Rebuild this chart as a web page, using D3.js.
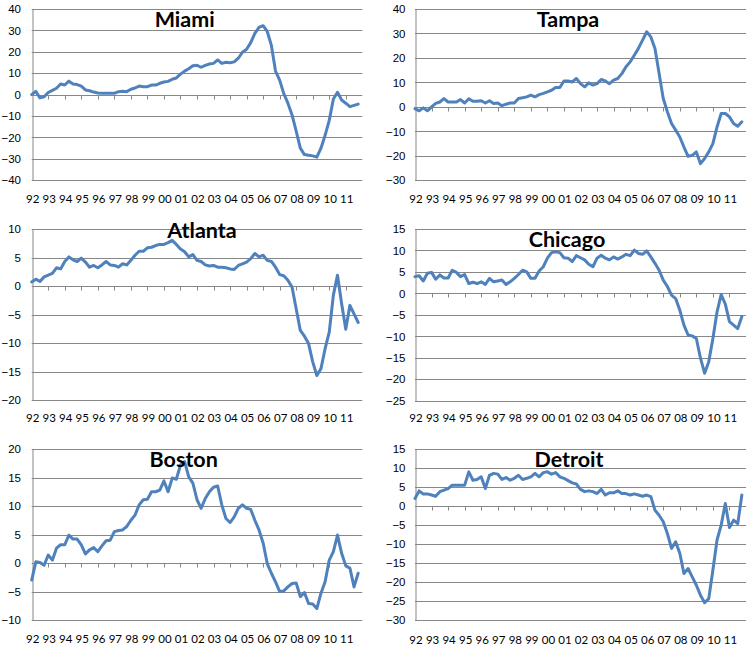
<!DOCTYPE html>
<html>
<head>
<meta charset="utf-8">
<script src="https://cdn.jsdelivr.net/npm/d3@7"></script>
<style>
  body { margin: 0; background: #fff; }
  svg { display: block; font-family: Lato, "Liberation Sans", sans-serif; }
</style>
</head>
<body>
<svg id="chart" width="750" height="646"></svg>
<script>
// category labels, one per year (Q1 of each year)
var yearLabels = ["92","93","94","95","96","97","98","99","00","01",
                  "02","03","04","05","06","07","08","09","10","11"];

// quarterly values, Q1 1992 .. Q4 2011 (4 per row = 1 year)
var miami = [
  0, 1.5, -1.5, -1,
  1, 2, 3, 5,
  4.5, 6.3, 5, 4.7,
  4, 2.2, 1.8, 1.2,
  0.8, 0.6, 0.6, 0.6,
  0.6, 1.4, 1.6, 1.4,
  2.5, 3.1, 4, 3.7,
  3.7, 4.5, 4.5, 5.3,
  5.9, 6.2, 7.2, 7.8,
  9.6, 11, 12.1, 13.5,
  13.7, 12.8, 13.7, 14.3,
  14.6, 16.2, 14.6, 15.1,
  14.9, 15.3, 17, 19.8,
  21.2, 24.3, 28.6, 31.4,
  32.2, 29.5, 23, 11,
  6.8, 0.5, -4, -9.5,
  -17, -25, -28, -28.3,
  -28.6, -29.2, -25, -19,
  -12, -2, 1.1, -2.5,
  -4, -5.6, -5, -4.4
];
var tampa = [
  -0.7, -1.6, -0.4, -1.6,
  0, 1.4, 2, 3.4,
  2, 2, 2, 3,
  1.6, 3.3, 2.3, 2.3,
  2.5, 1.6, 2.5, 1.4,
  1.6, 0.5, 1.1, 1.6,
  1.6, 3.4, 3.7, 4.1,
  4.8, 4.1, 5, 5.5,
  6.1, 6.8, 7.9, 7.9,
  10.6, 10.6, 10.2, 11.6,
  9.5, 8.2, 9.8, 8.9,
  9.5, 11.2, 10.6, 9.5,
  10.9, 11.6, 13.6, 16.4,
  18.4, 21.1, 23.9, 27.3,
  30.7, 28.6, 23.9, 13.6,
  3.4, -2, -6.8, -9.5,
  -12.3, -16.4, -20.2, -19.8,
  -18.4, -23.2, -21.1, -18.4,
  -15, -8.2, -2.7, -2.7,
  -4.1, -6.8, -7.9, -6.1
];
var atlanta = [
  0.7, 1.2, 0.8, 1.6,
  1.9, 2.2, 3.2, 3,
  4.3, 5.1, 4.6, 4.3,
  4.9, 4.2, 3.3, 3.6,
  3.2, 3.7, 4.3, 3.7,
  3.6, 3.3, 3.9, 3.7,
  4.5, 5.4, 6.1, 6.1,
  6.7, 6.8, 7.1, 7.3,
  7.3, 7.6, 8, 7.3,
  6.5, 6, 5.1, 5.5,
  4.5, 4.3, 3.7, 3.5,
  3.6, 3.3, 3.3, 3.2,
  3, 2.9, 3.6, 3.9,
  4.2, 4.8, 5.7, 5.1,
  5.4, 4.5, 4.3, 3.3,
  2, 1.8, 1, -0.2,
  -4, -7.8, -8.8, -10.1,
  -13.3, -15.7, -14.5, -11,
  -8.1, -1.6, 1.9, -3.1,
  -7.6, -3.4, -4.9, -6.4
];
var chicago = [
  3.9, 4.1, 2.9, 4.7,
  4.9, 3.3, 4.3, 3.6,
  3.6, 5.4, 4.9, 3.9,
  4.4, 2.3, 2.6, 2.3,
  2.7, 2.1, 3.5, 2.7,
  2.9, 3.1, 2.1, 2.7,
  3.5, 4.4, 5.4, 5,
  3.5, 3.5, 5.2, 6.2,
  8.2, 9.5, 9.7, 9.5,
  8.3, 8.2, 7.4, 8.8,
  8.3, 7.8, 6.8, 6.2,
  8.2, 8.9, 8.2, 7.8,
  8.5, 8, 8.5, 9.1,
  8.8, 10.1, 9.3, 9.1,
  9.9, 8.5, 7, 5.4,
  3.1, 1.6, -0.4, -1.2,
  -3.9, -7.4, -9.7, -9.9,
  -10.5, -15.1, -18.6, -15.9,
  -10.5, -4.3, -0.3, -2.5,
  -6.6, -7.4, -8.2, -5.4
];
var boston = [
  -3, 0.2, 0.1, -0.4,
  1.4, 0.5, 2.6, 3.2,
  3.2, 4.9, 4.2, 4.2,
  3.2, 1.6, 2.3, 2.7,
  2, 3, 3.9, 4,
  5.5, 5.7, 5.8, 6.4,
  7.5, 8.4, 10.2, 11.1,
  11.2, 12.5, 12.5, 12.8,
  14.4, 12.5, 14.9, 14.7,
  17.2, 17.8, 15.1, 14,
  11.1, 9.6, 11.3, 12.5,
  13.3, 13.5, 10.2, 7.8,
  7.1, 8.1, 9.6, 10.2,
  9.6, 9.4, 7.5, 5.8,
  3.5, -0.1, -1.8, -3.3,
  -5, -4.9, -4.2, -3.6,
  -3.5, -5.9, -5.2, -7.1,
  -7.2, -8, -5.3, -3.3,
  0.5, 2, 4.9, 1.7,
  -0.5, -0.9, -4.2, -1.8
];
var detroit = [
  2, 4, 3.2, 3.2,
  2.9, 2.6, 3.8, 4.2,
  4.6, 5.5, 5.5, 5.5,
  5.5, 9, 6.8, 7,
  7.7, 4.6, 8.1, 8.6,
  8.4, 7, 7.5, 6.8,
  7.3, 8.1, 7, 7.3,
  7.7, 8.6, 7.7, 8.8,
  9, 8.4, 8.8, 7.7,
  7.3, 6.7, 6.1, 5.8,
  4.4, 3.8, 4, 3.8,
  3.3, 4.4, 2.9, 3.5,
  3.5, 4, 3.3, 3.3,
  2.9, 3.2, 2.9, 2.6,
  2.9, 2.5, -1.1, -2.4,
  -4.1, -7.2, -11.1, -9.4,
  -12.4, -17.7, -16.4, -18.6,
  -20.8, -23.4, -25.4, -24.3,
  -16.8, -8.9, -5, 0.7,
  -5.6, -3.7, -4.6, 2.9
];

// layout of the six small charts (2 columns x 3 rows)
var panels = [
  {name: "Miami",   data: miami,   left: 31.7, right: 362.3, top: 9,   bottom: 180.3, domain: [-40, 40], step: 10, tx: 184.7, ty: 26.7,  ly: 198.5},
  {name: "Tampa",   data: tampa,   left: 415,  right: 746,   top: 9,   bottom: 180.3, domain: [-30, 40], step: 10, tx: 568,   ty: 26.7,  ly: 198.5},
  {name: "Atlanta", data: atlanta, left: 31.7, right: 362.3, top: 229, bottom: 400,   domain: [-20, 10], step: 5,  tx: 202,   ty: 238.3, ly: 417.5},
  {name: "Chicago", data: chicago, left: 415,  right: 746,   top: 229, bottom: 400.7, domain: [-25, 15], step: 5,  tx: 567,   ty: 246.7, ly: 418},
  {name: "Boston",  data: boston,  left: 31.7, right: 362.3, top: 449, bottom: 620,   domain: [-10, 20], step: 5,  tx: 183.7, ty: 466.7, ly: 639.2},
  {name: "Detroit", data: detroit, left: 415,  right: 746,   top: 449, bottom: 620.3, domain: [-30, 15], step: 5,  tx: 569,   ty: 466.7, ly: 640}
];

var svg = d3.select("#chart");
svg.append("rect").attr("width", 750).attr("height", 646).attr("fill", "#fff");

panels.forEach(function(p) {
  var g = svg.append("g").attr("class", "panel");

  var x = d3.scaleLinear()
    .domain([0, yearLabels.length * 4])
    .range([p.left, p.right]);

  var y = d3.scaleLinear()
    .domain(p.domain)
    .range([p.bottom, p.top]);

  var yTicks = d3.range(p.domain[0], p.domain[1] + p.step / 2, p.step);

  // horizontal gridlines
  g.selectAll(".grid")
      .data(yTicks)
    .enter().append("line")
      .attr("class", "grid")
      .attr("x1", p.left)
      .attr("x2", p.right)
      .attr("y1", function(d) { return Math.round(y(d)) + 0.5; })
      .attr("y2", function(d) { return Math.round(y(d)) + 0.5; })
      .style("stroke", "#878787")
      .style("stroke-width", 1);

  // value axis
  var yAxis = d3.axisLeft(y)
    .tickValues(yTicks)
    .tickSize(0)
    .tickPadding(p.left < 100 ? 11.5 : 10);

  var ya = g.append("g")
      .attr("class", "y axis")
      .attr("transform", "translate(" + (Math.round(p.left) + 0.5) + ",0)")
      .call(yAxis);
  ya.select(".domain").style("stroke", "#878787");
  ya.selectAll("text")
      .style("font-size", "11.5px")
      .style("fill", "#000");

  // category axis crosses at zero: tick marks hang below the zero line
  var y0 = Math.round(y(0)) + 0.5;
  var tickIdx = d3.range(1, yearLabels.length);
  g.selectAll(".xtick")
      .data(tickIdx)
    .enter().append("line")
      .attr("class", "xtick")
      .attr("x1", function(d) { return Math.round(x(d * 4)) + 0.5; })
      .attr("x2", function(d) { return Math.round(x(d * 4)) + 0.5; })
      .attr("y1", y0)
      .attr("y2", y0 + 4)
      .style("stroke", "#878787");

  // year labels along the bottom
  g.selectAll(".xlabel")
      .data(yearLabels)
    .enter().append("text")
      .attr("class", "xlabel")
      .attr("x", function(d, i) { return x(i * 4) + 1; })
      .attr("y", p.ly)
      .attr("dy", "0.35em")
      .style("text-anchor", "middle")
      .style("font-size", "11.5px")
      .style("fill", "#000")
      .text(function(d) { return d; });

  // the series
  var line = d3.line()
    .x(function(d, i) { return x(i); })
    .y(function(d) { return y(d); });

  g.append("path")
      .datum(p.data)
      .attr("d", line)
      .style("fill", "none")
      .style("stroke", "#4F81BD")
      .style("stroke-width", 3)
      .style("stroke-linejoin", "round")
      .style("stroke-linecap", "round");

  // title
  g.append("text")
      .attr("x", p.tx)
      .attr("y", p.ty)
      .style("text-anchor", "middle")
      .style("font-size", "21.5px")
      .style("font-weight", "bold")
      .style("fill", "#000")
      .text(p.name);
});
</script>
</body>
</html>
